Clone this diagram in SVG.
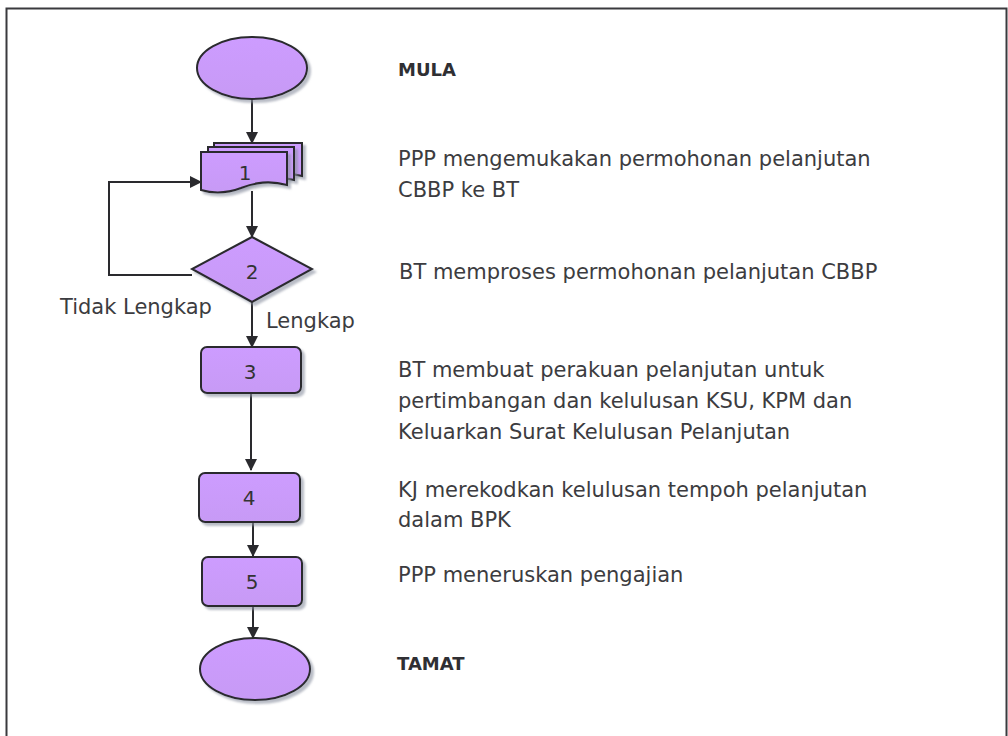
<svg xmlns="http://www.w3.org/2000/svg" width="1008" height="736" viewBox="0 0 1008 736">
<style>
.shape{fill:url(#pg);stroke:#2a2a2e;stroke-width:2;filter:url(#sh)}
.t{font-family:"DejaVu Sans",sans-serif;font-size:21px;fill:#3c3c40}
.b{font-family:"DejaVu Sans",sans-serif;font-size:18px;font-weight:bold;fill:#2f2f33}
.n{font-family:"DejaVu Sans",sans-serif;font-size:20px;fill:#333;text-anchor:middle}
.c{fill:none;stroke:#2a2a2e;stroke-width:2}
</style>
<defs>
<linearGradient id="pg" x1="0" y1="0" x2="0" y2="1">
<stop offset="0" stop-color="#cd9cff"/>
<stop offset="1" stop-color="#c79af5"/>
</linearGradient>
<filter id="sh" x="-20%" y="-20%" width="150%" height="150%">
<feDropShadow dx="3" dy="3" stdDeviation="1.2" flood-color="#8a90a0" flood-opacity="0.6"/>
</filter>
<marker id="ah" viewBox="0 0 12 12" refX="11" refY="6" markerWidth="12" markerHeight="12" markerUnits="userSpaceOnUse" orient="auto">
<path d="M0,0 L12,6 L0,12 Z" fill="#2a2a2e"/>
</marker>
</defs>
<rect x="6.5" y="8.5" width="1000" height="740" fill="#fff" stroke="#3a3a3e" stroke-width="2"/>

<g id="connectors">
<line class="c" x1="252" y1="100" x2="252" y2="143" marker-end="url(#ah)"/>
<line class="c" x1="252" y1="191" x2="252" y2="237" marker-end="url(#ah)"/>
<polyline class="c" points="192,275 109,275 109,182 201,182" marker-end="url(#ah)"/>
<line class="c" x1="252" y1="302" x2="252" y2="347" marker-end="url(#ah)"/>
<line class="c" x1="251" y1="394" x2="251" y2="470" marker-end="url(#ah)"/>
<line class="c" x1="253" y1="523" x2="253" y2="556" marker-end="url(#ah)"/>
<line class="c" x1="253" y1="607" x2="253" y2="638" marker-end="url(#ah)"/>
<text class="t" x="60" y="314">Tidak Lengkap</text>
<text class="t" x="266" y="328">Lengkap</text>
</g>

<g id="start">
<ellipse class="shape" cx="252" cy="68" rx="55" ry="31"/>
<text class="b" x="398" y="76">MULA</text>
</g>

<g id="step1">
<path class="shape" d="M214,143 H302 V176 C284,171 268,174 256,179 C240,185 224,184 214,181 Z"/>
<path class="shape" d="M208,147 H294 V180 C276,175 260,178 248,183 C232,189 218,188 208,185 Z"/>
<path class="shape" d="M201,152 H287 V185 C269,180 253,183 241,188 C225,194 211,193 201,190 Z"/>
<text class="n" x="245" y="180">1</text>
<text class="t" x="398" y="166">PPP mengemukakan permohonan pelanjutan</text>
<text class="t" x="398" y="197">CBBP ke BT</text>
</g>

<g id="step2">
<polygon class="shape" points="252,237 312,269 252,302 192,269"/>
<text class="n" x="252" y="279">2</text>
<text class="t" x="399" y="279">BT memproses permohonan pelanjutan CBBP</text>
</g>

<g id="step3">
<rect class="shape" x="201" y="347" width="100" height="46" rx="6"/>
<text class="n" x="250" y="379">3</text>
<text class="t" x="398" y="377">BT membuat perakuan pelanjutan untuk</text>
<text class="t" x="398" y="408">pertimbangan dan kelulusan KSU, KPM dan</text>
<text class="t" x="398" y="439">Keluarkan Surat Kelulusan Pelanjutan</text>
</g>

<g id="step4">
<rect class="shape" x="199" y="473" width="101" height="49" rx="6"/>
<text class="n" x="249" y="505">4</text>
<text class="t" x="398" y="497">KJ merekodkan kelulusan tempoh pelanjutan</text>
<text class="t" x="398" y="527">dalam BPK</text>
</g>

<g id="step5">
<rect class="shape" x="202" y="557" width="100" height="49" rx="6"/>
<text class="n" x="252" y="589">5</text>
<text class="t" x="398" y="582">PPP meneruskan pengajian</text>
</g>

<g id="end">
<ellipse class="shape" cx="255" cy="669" rx="55" ry="31"/>
<text class="b" x="397" y="670">TAMAT</text>
</g>
</svg>
